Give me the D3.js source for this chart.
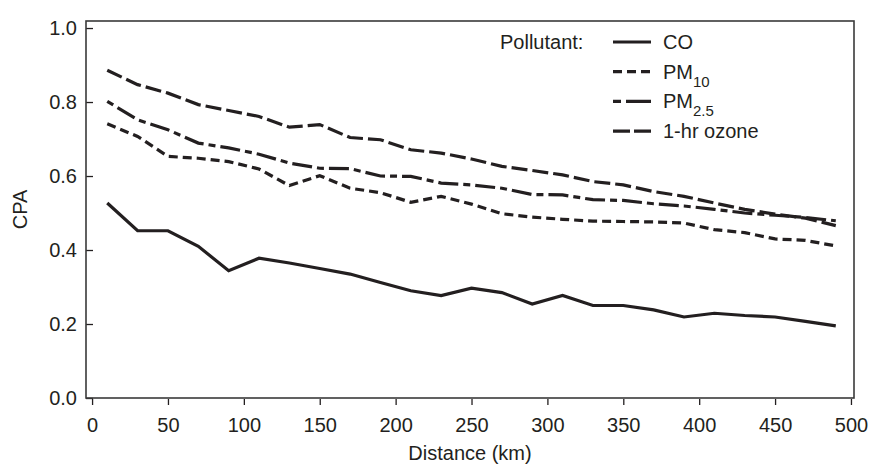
<!DOCTYPE html>
<html>
<head>
<meta charset="utf-8">
<script src="https://cdn.jsdelivr.net/npm/d3@7"></script>
<style>
  body { margin: 0; background: #fff; }
  svg text { font-family: "Liberation Sans", Arial, sans-serif; fill: #231f20; }
</style>
</head>
<body>
<script>
var width = 869;
var height = 466;

// distance (km) at the midpoint of each bin
var distance = [10, 30, 50, 70, 90, 110, 130, 150, 170, 190, 210, 230, 250,
                270, 290, 310, 330, 350, 370, 390, 410, 430, 450, 470, 490];

var co    = [0.527, 0.452, 0.452, 0.410, 0.344, 0.378, 0.365, 0.350, 0.335, 0.312, 0.290, 0.277, 0.297,
             0.285, 0.254, 0.277, 0.250, 0.250, 0.238, 0.219, 0.229, 0.223, 0.219, 0.207, 0.195];
var pm10  = [0.741, 0.707, 0.653, 0.648, 0.639, 0.619, 0.574, 0.601, 0.567, 0.555, 0.529, 0.545, 0.524,
             0.498, 0.489, 0.483, 0.478, 0.477, 0.476, 0.473, 0.455, 0.447, 0.430, 0.426, 0.411];
var pm25  = [0.802, 0.752, 0.725, 0.689, 0.676, 0.659, 0.635, 0.621, 0.620, 0.600, 0.599, 0.581, 0.576,
             0.567, 0.550, 0.549, 0.536, 0.534, 0.525, 0.519, 0.510, 0.500, 0.494, 0.488, 0.479];
var ozone = [0.886, 0.847, 0.824, 0.793, 0.777, 0.761, 0.732, 0.739, 0.704, 0.698, 0.671, 0.662, 0.646,
             0.626, 0.615, 0.603, 0.585, 0.576, 0.558, 0.545, 0.527, 0.510, 0.497, 0.486, 0.466];

var seriesNames = ["CO", "PM10", "PM2.5", "1-hr ozone"];
var xTicks = [0, 50, 100, 150, 200, 250, 300, 350, 400, 450, 500];
var yTicks = [0, 0.2, 0.4, 0.6, 0.8, 1.0];

var series = [
  { name: seriesNames[0], main: "CO", sub: "",    values: co,    dash: null,       legendDash: null },
  { name: seriesNames[1], main: "PM", sub: "10",  values: pm10,  dash: "9,5",      legendDash: "9,5" },
  { name: seriesNames[2], main: "PM", sub: "2.5", values: pm25,  dash: "7,5,20,5", legendDash: "8,5,25,5" },
  { name: seriesNames[3], main: "1-hr ozone", sub: "", values: ozone, dash: "16,5", legendDash: "17,4" }
];

var plotLeft = 86, plotRight = 854, plotTop = 21, plotBottom = 398;

var x = d3.scaleLinear().domain([-4, 502]).range([plotLeft, plotRight]);
var y = d3.scaleLinear().domain([0, 1.019]).range([plotBottom, plotTop]);

var svg = d3.select("body").append("svg")
  .attr("width", width)
  .attr("height", height);

// axes
var xAxis = svg.append("g")
  .attr("transform", "translate(0," + plotBottom + ")")
  .call(d3.axisBottom(x).tickValues(xTicks).tickSize(7).tickPadding(13).tickFormat(d3.format("d")));

var yAxis = svg.append("g")
  .attr("transform", "translate(" + plotLeft + ",0)")
  .call(d3.axisLeft(y).tickValues(yTicks).tickSizeInner(-7).tickSizeOuter(0).tickPadding(9).tickFormat(d3.format(".1f")));

[xAxis, yAxis].forEach(function (g) {
  g.select(".domain").remove();
  g.selectAll("line").attr("stroke", "#231f20").attr("stroke-width", 1.3);
  g.selectAll("text").style("font-size", "20px").attr("fill", "#231f20");
});
xAxis.selectAll("line").attr("y1", 1);

// frame
svg.append("rect")
  .attr("x", plotLeft).attr("y", plotTop)
  .attr("width", plotRight - plotLeft).attr("height", plotBottom - plotTop)
  .attr("fill", "none")
  .attr("stroke", "#3a3a3a")
  .attr("stroke-width", 1.6);

// lines
var line = d3.line()
  .x(function (d, i) { return x(distance[i]); })
  .y(function (d) { return y(d); });

svg.selectAll(".series")
  .data(series)
  .enter().append("path")
  .attr("class", "series")
  .attr("d", function (d) { return line(d.values); })
  .attr("fill", "none")
  .attr("stroke", "#231f20")
  .attr("stroke-width", 3.2)
  .attr("stroke-linejoin", "miter")
  .attr("stroke-dasharray", function (d) { return d.dash; });

// legend
var legend = svg.append("g");
legend.append("text")
  .attr("x", 500).attr("y", 49)
  .style("font-size", "20px")
  .text("Pollutant:");

var item = legend.selectAll(".item")
  .data(series)
  .enter().append("g")
  .attr("class", "item")
  .attr("transform", function (d, i) { return "translate(0," + (i * 29.7) + ")"; });

item.append("line")
  .attr("x1", 613).attr("x2", 651)
  .attr("y1", 42).attr("y2", 42)
  .attr("stroke", "#231f20")
  .attr("stroke-width", 3.2)
  .attr("stroke-dasharray", function (d) { return d.legendDash; });

var label = item.append("text")
  .attr("x", 663).attr("y", 49)
  .style("font-size", "20px");
label.append("tspan").text(function (d) { return d.main; });
label.append("tspan")
  .attr("dy", 8)
  .style("font-size", "15px")
  .text(function (d) { return d.sub; });

// axis titles
svg.append("text")
  .attr("x", (plotLeft + plotRight) / 2).attr("y", 460)
  .attr("text-anchor", "middle")
  .style("font-size", "20px")
  .text("Distance (km)");

svg.append("text")
  .attr("transform", "translate(27," + ((plotTop + plotBottom) / 2) + ") rotate(-90)")
  .attr("text-anchor", "middle")
  .style("font-size", "20px")
  .text("CPA");
</script>
</body>
</html>
